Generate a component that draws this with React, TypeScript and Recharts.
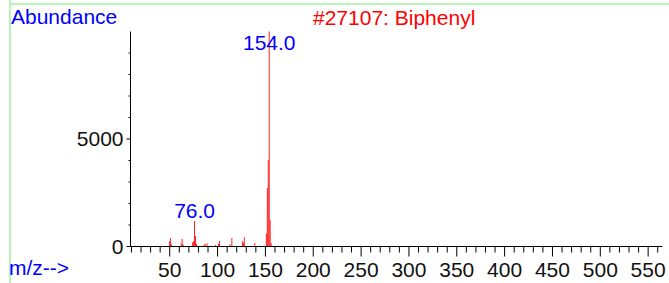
import { BarChart, Bar, XAxis, YAxis, ReferenceDot } from "recharts";

// m/z and abundance of each peak
const mz = [
  50, 51, 52, 62, 63, 64, 74, 75, 76, 77, 78, 86, 87, 89, 98, 101, 102,
  113, 115, 126, 127, 128, 139, 151, 152, 153, 154, 155, 156,
];
const abundance = [
  250, 400, 90, 140, 350, 90, 200, 250, 1190, 490, 120, 80, 130, 150, 70, 120, 260,
  100, 400, 250, 180, 430, 150, 600, 2720, 4030, 10000, 1240, 160,
];

// annotated peaks
const peakLabelMz = [76, 154];
const peakLabelAt = [1190, 9000];
const peakLabelText = ["76.0", "154.0"];

// every 10 on m/z gets a tick, every 50 a label
const xTicks = [
  10, 20, 30, 40, 50, 60, 70, 80, 90, 100, 110, 120, 130, 140, 150, 160, 170, 180, 190, 200,
  210, 220, 230, 240, 250, 260, 270, 280, 290, 300, 310, 320, 330, 340, 350, 360, 370, 380,
  390, 400, 410, 420, 430, 440, 450, 460, 470, 480, 490, 500, 510, 520, 530, 540, 550, 560,
];
// every 1000 on abundance gets a tick, every 5000 a label
const yTicks = [0, 1000, 2000, 3000, 4000, 5000, 6000, 7000, 8000, 9000];

const title = "#27107: Biphenyl";

const FONT = "'Liberation Sans', Arial, sans-serif";
const BLUE = "#0000ff";
const RED = "#ff0000";
const GREEN = "#b8f5b8";

const data = mz.map((m, i) => ({ mz: m, abundance: abundance[i] }));

function XTick({ x, y, payload }: any) {
  const major = payload.value % 50 === 0;
  return (
    <g>
      <line x1={x} x2={x} y1={y} y2={y + (major ? 10 : 6)} stroke="#000" />
      {major && (
        <text x={x} y={y + 16} dy="0.71em" textAnchor="middle" fontSize={21} fontFamily={FONT} fill="#111">
          {payload.value}
        </text>
      )}
    </g>
  );
}

function YTick({ x, y, payload }: any) {
  const major = payload.value % 5000 === 0;
  return (
    <g>
      <line x1={x - (major ? 4 : 2)} x2={x} y1={y} y2={y} stroke="#000" />
      {major && (
        <text x={x - 7} y={y} dy="0.355em" textAnchor="end" fontSize={21} fontFamily={FONT} fill="#111">
          {payload.value}
        </text>
      )}
    </g>
  );
}

export default function App() {
  return (
    <div style={{ position: "relative", width: 669, height: 283, background: "#fff", fontFamily: FONT }}>
      <style>{`body{margin:0}`}</style>
      <div style={{ position: "absolute", left: 9, top: 0, width: 2, height: 283, background: GREEN }} />
      <div style={{ position: "absolute", left: 9, top: 3, width: 660, height: 2, background: GREEN }} />
      <div style={{ position: "absolute", left: 11, top: 6, fontSize: 21, lineHeight: 1, color: BLUE }}>
        Abundance
      </div>
      <div style={{ position: "absolute", left: 313, top: 7, fontSize: 21, lineHeight: 1, color: RED }}>
        {title}
      </div>
      <div style={{ position: "absolute", left: 9, top: 257, fontSize: 21, lineHeight: 1, color: BLUE }}>
        m/z--&gt;
      </div>
      <BarChart
        width={669}
        height={283}
        data={data}
        margin={{ top: 31.5, right: 6.5, bottom: 0.5, left: 70.5 }}
        style={{ position: "absolute", left: 0, top: 0 }}
      >
        <XAxis
          type="number"
          dataKey="mz"
          domain={[9, 565]}
          allowDataOverflow
          ticks={xTicks}
          interval={0}
          tickLine={false}
          tickSize={0}
          tickMargin={0}
          height={36}
          stroke="#000"
          tick={<XTick />}
        />
        <YAxis
          type="number"
          domain={[0, 10000]}
          ticks={yTicks}
          interval={0}
          tickLine={false}
          tickSize={0}
          tickMargin={0}
          width={60}
          stroke="#000"
          tick={<YTick />}
        />
        <Bar dataKey="abundance" fill={RED} barSize={1} isAnimationActive={false} />
        {peakLabelMz.map((m, i) => (
          <ReferenceDot
            key={m}
            x={m}
            y={peakLabelAt[i]}
            r={0}
            fill="none"
            stroke="none"
            label={{
              value: peakLabelText[i],
              position: "top",
              offset: 3,
              fill: BLUE,
              fontSize: 21,
              fontFamily: FONT,
            }}
          />
        ))}
      </BarChart>
    </div>
  );
}
